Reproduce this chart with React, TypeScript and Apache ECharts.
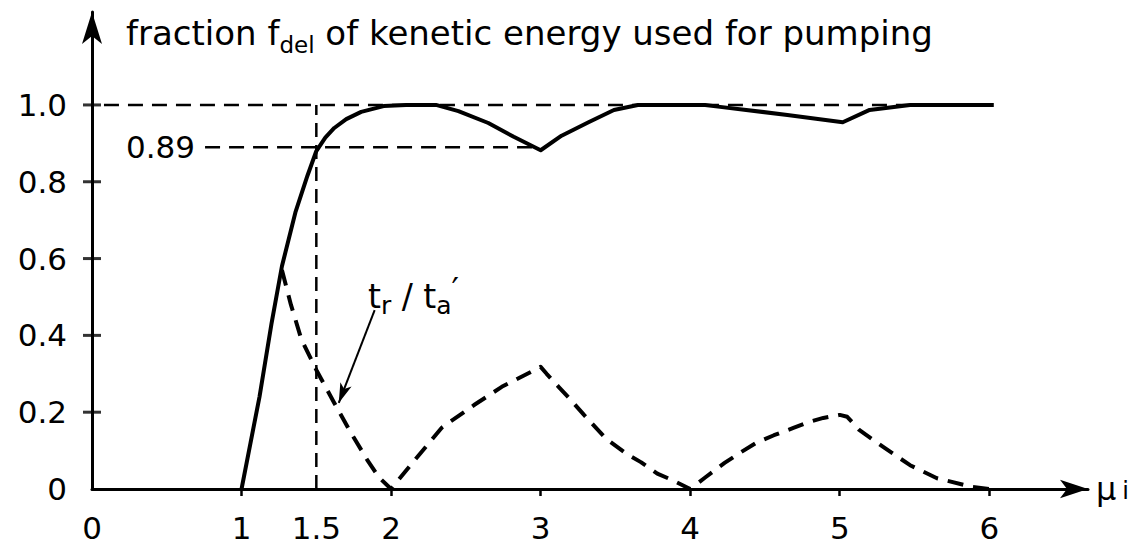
import React, { useEffect, useRef } from 'react';
import * as echarts from 'echarts';

// f_del curve (solid)
const fdelCurve: [number, number][] = [
  [1.0, 0], [1.06, 0.12], [1.12, 0.24], [1.2, 0.43], [1.27, 0.58], [1.36, 0.72],
  [1.44, 0.815], [1.5, 0.88], [1.56, 0.915], [1.62, 0.94], [1.7, 0.963], [1.8, 0.982],
  [1.95, 0.997], [2.1, 1.0], [2.3, 1.0], [2.45, 0.984], [2.65, 0.953], [2.82, 0.917],
  [3.0, 0.882], [3.14, 0.92], [3.32, 0.955], [3.49, 0.987], [3.65, 1.0], [4.1, 1.0],
  [4.2, 0.995], [4.65, 0.974], [5.02, 0.955], [5.2, 0.987], [5.47, 1.0], [6.03, 1.0],
];

// t_r / t_a' curve (dashed)
const ratioCurve: [number, number][] = [
  [1.27, 0.57], [1.33, 0.48], [1.4, 0.39], [1.5, 0.31], [1.62, 0.224], [1.72, 0.154],
  [1.84, 0.076], [1.92, 0.03], [2.0, 0], [2.14, 0.067], [2.34, 0.16], [2.56, 0.22],
  [2.74, 0.266], [3.0, 0.318], [3.04, 0.3], [3.12, 0.266], [3.19, 0.237], [3.29, 0.193],
  [3.44, 0.13], [3.58, 0.09], [3.67, 0.07], [3.78, 0.04], [3.87, 0.025], [4.0, 0],
  [4.1, 0.03], [4.23, 0.068], [4.34, 0.096], [4.44, 0.12], [4.56, 0.14], [4.69, 0.159],
  [4.79, 0.174], [4.89, 0.185], [5.0, 0.193], [5.05, 0.188], [5.13, 0.154], [5.3, 0.107],
  [5.47, 0.062], [5.65, 0.028], [5.89, 0.005], [6.0, 0],
];

// guide lines
const fullLevel: [number, number][] = [[0.08, 1.0], [6.0, 1.0]];
const level089: [number, number][] = [[0.756, 0.89], [3.0, 0.89]];
const vertical15: [number, number][] = [[1.5, 0], [1.5, 1.0]];

// axis ticks / labels
const yTickValues = [0, 0.2, 0.4, 0.6, 0.8, 1.0];
const yCrossTicks = [0.2, 0.4, 0.6, 0.8, 1.0];
const xTickValues = [1, 2, 3, 4, 5, 6];
const xLabelValues = [0, 1, 1.5, 2, 3, 4, 5, 6];

// annotation
const arrowFrom: [number, number] = [1.89, 0.466];
const arrowTo: [number, number] = [1.65, 0.224];
const ratioLabelAt: [number, number] = [2.15, 0.5];

const FONT = 'DejaVu Sans';

export default function App() {
  const ref = useRef<HTMLDivElement>(null);
  useEffect(() => {
    if (!ref.current) return;
    const chart = echarts.init(ref.current, null, { renderer: 'svg' });
    const black = '#000';
    chart.setOption({
      animation: false,
      backgroundColor: '#fff',
      textStyle: { fontFamily: FONT, color: black },
      title: {
        text: 'fraction f{s|del} of kenetic energy used for pumping',
        left: 121,
        top: 4,
        textStyle: {
          fontFamily: FONT,
          fontSize: 34,
          fontWeight: 'normal',
          color: black,
          rich: {
            s: { fontFamily: FONT, fontSize: 23, color: black, padding: [24, 0, 0, 0] },
          },
        },
      },
      grid: { left: 92, top: 12, right: 46, bottom: 55, containLabel: false },
      xAxis: {
        type: 'value',
        min: 0,
        max: 6.66,
        name: 'μ{s|i}',
        nameLocation: 'end',
        nameGap: 8,
        nameTextStyle: {
          fontFamily: FONT,
          fontSize: 32,
          color: black,
          rich: { s: { fontFamily: FONT, fontSize: 24, color: black, padding: [4, 0, 0, 6] } },
        },
        axisLine: {
          show: true,
          symbol: ['none', 'arrow'],
          symbolSize: [14, 28],
          lineStyle: { color: black, width: 3 },
        },
        axisTick: {
          show: true,
          customValues: xTickValues,
          length: 7,
          lineStyle: { color: black, width: 2.5 },
        },
        axisLabel: {
          customValues: xLabelValues,
          formatter: (v: number) => (v === 1.5 ? '1.5' : String(v)),
          fontFamily: FONT,
          fontSize: 31,
          color: black,
          margin: 23,
        },
        splitLine: { show: false },
      },
      yAxis: {
        type: 'value',
        min: 0,
        max: 1.242,
        axisLine: {
          show: true,
          symbol: ['none', 'arrow'],
          symbolSize: [15, 32],
          lineStyle: { color: black, width: 3 },
        },
        axisTick: { show: false },
        axisLabel: {
          customValues: yTickValues,
          formatter: (v: number) => (v === 0 ? '0' : v.toFixed(1)),
          fontFamily: FONT,
          fontSize: 31,
          color: black,
          margin: 25,
          padding: [8, 0, 0, 0],
        },
        splitLine: { show: false },
      },
      series: [
        {
          type: 'scatter',
          data: yCrossTicks.map((v) => [0, v]),
          symbol: 'rect',
          symbolSize: [18, 3],
          itemStyle: { color: black },
          clip: false,
          silent: true,
          z: 5,
        },
        {
          type: 'line',
          data: fullLevel,
          symbol: 'none',
          lineStyle: { color: black, width: 2.5, type: [15, 9] },
          silent: true,
        },
        {
          type: 'line',
          data: level089.map((p, i) =>
            i === 0
              ? {
                  value: p,
                  label: {
                    show: true,
                    position: 'left',
                    distance: 10,
                    formatter: '0.89',
                    fontFamily: FONT,
                    fontSize: 31,
                    color: black,
                  },
                }
              : { value: p }
          ),
          symbol: 'circle',
          symbolSize: 0.1,
          showSymbol: true,
          itemStyle: { color: 'rgba(0,0,0,0)' },
          lineStyle: { color: black, width: 2.5, type: [15, 9] },
          silent: true,
        },
        {
          type: 'line',
          data: vertical15,
          symbol: 'none',
          lineStyle: { color: black, width: 2.5, type: [14, 8] },
          silent: true,
        },
        {
          type: 'line',
          data: ratioCurve,
          symbol: 'none',
          lineStyle: { color: black, width: 4, type: [16, 10], join: 'round' },
          silent: true,
          markLine: {
            silent: true,
            symbol: ['none', 'arrow'],
            symbolSize: [9, 20],
            label: { show: false },
            lineStyle: { color: black, width: 2, type: 'solid', curveness: 0.08 },
            data: [[{ coord: arrowFrom }, { coord: arrowTo }]],
          },
          markPoint: {
            silent: true,
            symbol: 'circle',
            symbolSize: 1,
            itemStyle: { color: 'rgba(0,0,0,0)' },
            label: {
              show: true,
              position: 'inside',
              formatter: '{m|t}{s|r}{m| / t}{s|a}{p|′}',
              rich: {
                m: { fontFamily: FONT, fontSize: 33, color: black },
                s: { fontFamily: FONT, fontSize: 25, color: black, padding: [18, 0, 0, 0] },
                p: { fontFamily: FONT, fontSize: 33, color: black, padding: [0, 0, 12, 0] },
              },
            },
            data: [{ coord: ratioLabelAt }],
          },
        },
        {
          type: 'line',
          data: fdelCurve,
          symbol: 'none',
          lineStyle: { color: black, width: 4, join: 'round' },
          silent: true,
          z: 4,
        },
      ],
    });
    return () => chart.dispose();
  }, []);
  return (
    <div
      ref={ref}
      style={{ position: 'absolute', left: 0, top: 0, width: 1134, height: 544, background: '#fff' }}
    />
  );
}
